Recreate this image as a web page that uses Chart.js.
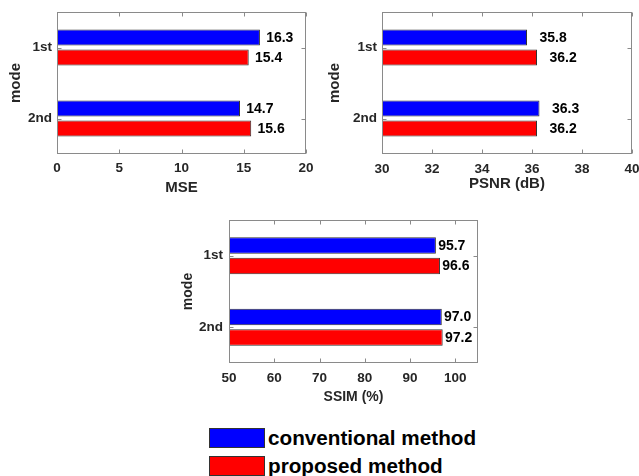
<!DOCTYPE html>
<html>
<head>
<meta charset="utf-8">
<script src="https://cdn.jsdelivr.net/npm/chart.js@4/dist/chart.umd.min.js"></script>
<style>
  html, body { margin: 0; padding: 0; background: #fff; width: 639px; height: 476px; overflow: hidden; position: relative;
    font-family: "Liberation Sans", Arial, sans-serif; }
  .panel { position: absolute; }
  .legend-row { position: absolute; left: 209px; height: 20px; display: flex; align-items: center; }
  .swatch { width: 56px; height: 20px; box-sizing: border-box; border: 1px solid #333; flex: none; }
  .legend-text { margin-left: 3px; font-weight: bold; font-size: 20.7px; line-height: 20px; color: #000; white-space: nowrap; }
</style>
</head>
<body>
<div class="panel" style="left:0;top:0;width:320px;height:200px"><canvas id="msePanel"></canvas></div>
<div class="panel" style="left:320px;top:0;width:319px;height:200px"><canvas id="psnrPanel"></canvas></div>
<div class="panel" style="left:170px;top:208px;width:320px;height:200px"><canvas id="ssimPanel"></canvas></div>
<div class="legend-row" style="top:428px"><div class="swatch" id="sw0"></div><div class="legend-text" id="lt0"></div></div>
<div class="legend-row" style="top:456px"><div class="swatch" id="sw1"></div><div class="legend-text" id="lt1"></div></div>
<script>
// Categories and series
const modes = ['1st', '2nd'];
const seriesNames = ['conventional method', 'proposed method'];
const seriesColors = ['#0000ff', '#ff0000'];

const mseConventional = [16.3, 14.7];
const mseProposed = [15.4, 15.6];
const psnrConventional = [35.8, 36.3];
const psnrProposed = [36.2, 36.2];
const ssimConventional = [95.7, 97.0];
const ssimProposed = [96.6, 97.2];

// Value-axis ticks
const mseTicks = [0, 5, 10, 15, 20];
const psnrTicks = [30, 32, 34, 36, 38, 40];
const ssimTicks = [50, 60, 70, 80, 90, 100];

const FONT = '"Liberation Sans", Arial, sans-serif';
const AXIS_COLOR = '#262626';

// Box frame with inward tick marks, plus value labels beside each bar
const framePlugin = {
  id: 'framePlugin',
  afterDatasetsDraw(chart) {
    const { ctx, chartArea: a, scales: { x, y } } = chart;
    ctx.save();
    ctx.strokeStyle = '#8a8a8a';
    ctx.lineWidth = 1;
    const L = Math.round(a.left) + 0.5, R = Math.round(a.right) - 0.5;
    const T = Math.round(a.top) + 0.5, B = Math.round(a.bottom) - 0.5;
    ctx.strokeRect(L, T, R - L, B - T);
    ctx.beginPath();
    x.ticks.forEach(t => {
      const px = Math.round(x.getPixelForValue(t.value)) + 0.5;
      ctx.moveTo(px, T); ctx.lineTo(px, T + 4);
      ctx.moveTo(px, B); ctx.lineTo(px, B - 4);
    });
    y.ticks.forEach((t, i) => {
      const py = Math.round(y.getPixelForTick(i)) + 0.5;
      ctx.moveTo(L, py); ctx.lineTo(L + 4, py);
      ctx.moveTo(R, py); ctx.lineTo(R - 4, py);
    });
    ctx.stroke();

    ctx.fillStyle = '#000';
    ctx.font = 'bold 14px ' + FONT;
    ctx.textBaseline = 'middle';
    ctx.textAlign = 'left';
    chart.data.datasets.forEach((ds, di) => {
      const meta = chart.getDatasetMeta(di);
      meta.data.forEach((bar, i) => {
        const v = ds.data[i];
        ctx.fillText(v.toFixed(1), x.getPixelForValue(v + 0.5), bar.y + 0.5);
      });
    });
    ctx.restore();
  }
};

function makePanel(id, conv, prop, ticks, xMax, title, g) {
  const mk = (label, data, color) => ({
    label, data,
    base: ticks[0],
    backgroundColor: color,
    borderColor: '#333',
    borderWidth: 1,
    borderSkipped: false,
    barPercentage: 0.8,
    categoryPercentage: g.catPct
  });
  new Chart(document.getElementById(id), {
    type: 'bar',
    data: {
      labels: modes,
      datasets: [mk(seriesNames[0], conv, seriesColors[0]), mk(seriesNames[1], prop, seriesColors[1])]
    },
    options: {
      indexAxis: 'y',
      responsive: true,
      maintainAspectRatio: false,
      animation: false,
      layout: { padding: { top: g.padTop, right: g.padRight, left: 0, bottom: 0 } },
      plugins: { legend: { display: false }, tooltip: { enabled: false } },
      scales: {
        x: {
          type: 'linear',
          min: ticks[0],
          max: xMax,
          grid: { display: false, drawTicks: false },
          border: { display: false },
          afterBuildTicks: s => { s.ticks = ticks.map(v => ({ value: v })); },
          afterFit: s => { s.height = g.xHeight; s.paddingLeft = 0; s.paddingRight = 0; },
          ticks: {
            padding: g.tickPad,
            color: AXIS_COLOR,
            font: { family: FONT, size: 13.5, weight: 'bold' },
            callback: v => String(v)
          },
          title: {
            display: true, text: title, color: AXIS_COLOR,
            font: { family: FONT, size: g.titleSize, weight: 'bold' },
            padding: { top: 0, bottom: g.titlePadBottom }
          }
        },
        y: {
          grid: { display: false, drawTicks: false },
          border: { display: false },
          afterFit: s => { s.width = g.yWidth; s.paddingTop = 0; s.paddingBottom = 0; },
          ticks: {
            padding: g.yTickPad,
            color: AXIS_COLOR,
            font: { family: FONT, size: 13.5, weight: 'bold' }
          },
          title: {
            display: true, text: 'mode', color: AXIS_COLOR,
            font: { family: FONT, size: g.titleSize, weight: 'bold' },
            padding: { top: g.modePad, bottom: 0 }
          }
        }
      }
    },
    plugins: [framePlugin]
  });
}

makePanel('msePanel', mseConventional, mseProposed, mseTicks, 20, 'MSE',
  { yWidth: 57, xHeight: 46, padTop: 12, padRight: 14, tickPad: 6, titlePadBottom: 3, modePad: 7, yTickPad: 5, titleSize: 15, catPct: 40 / 71 });
makePanel('psnrPanel', psnrConventional, psnrProposed, psnrTicks, 40, 'PSNR (dB)',
  { yWidth: 62, xHeight: 46, padTop: 12, padRight: 7, tickPad: 7, titlePadBottom: 7, modePad: 6, yTickPad: 5, titleSize: 15, catPct: 40 / 71 });
makePanel('ssimPanel', ssimConventional, ssimProposed, ssimTicks, 105, 'SSIM (%)',
  { yWidth: 59, xHeight: 45, padTop: 12, padRight: 12, tickPad: 7, titlePadBottom: 2, modePad: 10, yTickPad: 6, titleSize: 14, catPct: 41 / 71.5 });

// Shared legend
seriesNames.forEach((name, i) => {
  document.getElementById('sw' + i).style.background = seriesColors[i];
  document.getElementById('lt' + i).textContent = name;
});
</script>
</body>
</html>
